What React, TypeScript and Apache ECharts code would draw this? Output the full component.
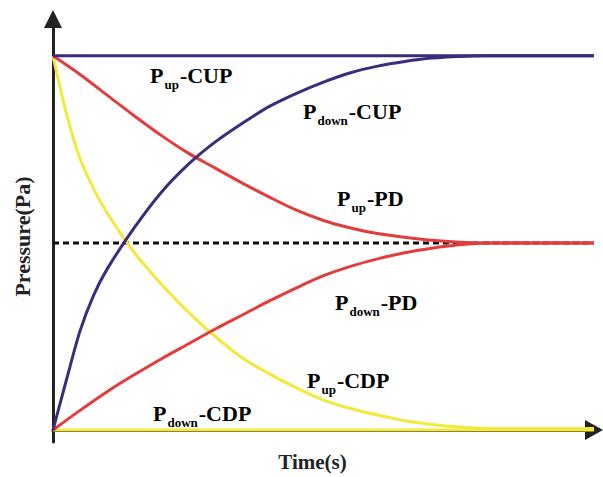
import React, { useEffect, useRef } from "react";
import * as echarts from "echarts";

const T_UP_CUP = [0, 10];
const V_UP_CUP = [2, 2];

const T_DOWN_CUP = [0, 0.25, 0.5, 0.75, 1, 1.5, 2, 2.5, 3, 3.5, 4, 4.5, 5, 5.5, 6, 6.5, 7, 7.5, 8, 10];
const V_DOWN_CUP = [0, 0.27, 0.53, 0.72, 0.86, 1.08, 1.27, 1.42, 1.54, 1.64, 1.73, 1.8, 1.86, 1.91, 1.945, 1.97, 1.988, 1.997, 2.0, 2.0];

const T_UP_PD = [0, 0.5, 1, 1.5, 2, 2.5, 3, 3.5, 4, 4.5, 5, 5.5, 6, 6.5, 7, 7.5, 8, 10];
const V_UP_PD = [2, 1.9, 1.79, 1.68, 1.575, 1.48, 1.4, 1.32, 1.245, 1.175, 1.12, 1.08, 1.05, 1.03, 1.014, 1.004, 1.0, 1.0];

const T_DOWN_PD = [0, 0.5, 1, 1.5, 2, 2.5, 3, 3.5, 4, 4.5, 5, 5.5, 6, 6.5, 7, 7.5, 8, 10];
const V_DOWN_PD = [0, 0.105, 0.205, 0.295, 0.38, 0.46, 0.54, 0.615, 0.69, 0.76, 0.825, 0.875, 0.915, 0.948, 0.972, 0.99, 1.0, 1.0];

const T_UP_CDP = [0, 0.25, 0.5, 0.75, 1, 1.5, 2, 2.5, 3, 3.5, 4, 4.5, 5, 5.5, 6, 6.5, 7, 7.5, 8, 10];
const V_UP_CDP = [2, 1.69, 1.45, 1.29, 1.16, 0.95, 0.78, 0.63, 0.5, 0.385, 0.3, 0.225, 0.16, 0.115, 0.08, 0.05, 0.03, 0.016, 0.009, 0.008];

const T_DOWN_CDP = [0, 10];
const V_DOWN_CDP = [0, 0];

const T_EQ = [0, 10];
const V_EQ = [1, 1];

const PURPLE = "#3d2b7c";
const RED = "#e23c3c";
const YELLOW = "#f3e83c";
const INK = "#222222";
const FONT = "'Liberation Serif', 'Times New Roman', serif";

const zip = (t: number[], v: number[]) => t.map((x, i) => [x, v[i]]);

const labelRich = {
  a: { fontSize: 22, fontWeight: "bold", fontFamily: FONT, color: INK, lineHeight: 24, verticalAlign: "bottom" },
  b: { fontSize: 13, fontWeight: "bold", fontFamily: FONT, color: INK, lineHeight: 24, verticalAlign: "bottom", padding: [0, 1, -5, 1] },
};

const label = (x: number, y: number, sub: string, tail: string) => ({
  type: "text",
  x,
  y,
  style: {
    text: `{a|P}{b|${sub}}{a|${tail}}`,
    rich: labelRich,
    align: "left",
    verticalAlign: "middle",
  },
});

export default function App() {
  const ref = useRef<HTMLDivElement>(null);
  useEffect(() => {
    if (!ref.current) return;
    const chart = echarts.init(ref.current, undefined, { renderer: "svg" });
    const line = (name: string, t: number[], v: number[], color: string, extra: any = {}) => ({
      name,
      type: "line",
      data: zip(t, v),
      showSymbol: false,
      symbol: "none",
      smooth: 0.3,
      lineStyle: { color, width: 3 },
      z: 3,
      ...extra,
    });
    chart.setOption({
      animation: false,
      backgroundColor: "#ffffff",
      grid: { left: 53, right: 9, top: 19, bottom: 33 },
      xAxis: {
        type: "value",
        min: 0,
        max: 10,
        name: "Time(s)",
        nameLocation: "middle",
        nameGap: 9,
        nameTextStyle: { fontSize: 21, fontWeight: "bold", fontFamily: FONT, color: INK, verticalAlign: "top", padding: [0, 22, 0, 0] },
        axisLine: { show: true, symbol: ["none", "triangle"], symbolSize: [20, 18], lineStyle: { color: INK, width: 3 } },
        axisTick: { show: false },
        axisLabel: { show: false },
        splitLine: { show: false },
      },
      yAxis: {
        type: "value",
        min: -0.064,
        max: 2.197,
        name: "Pressure(Pa)",
        nameLocation: "middle",
        nameGap: 20,
        nameTextStyle: { fontSize: 22, fontWeight: "bold", fontFamily: FONT, color: INK, padding: [0, 12, 0, 0] },
        axisLine: { show: true, symbol: ["none", "triangle"], symbolSize: [18, 18], lineStyle: { color: INK, width: 3 } },
        axisTick: { show: false },
        axisLabel: { show: false },
        splitLine: { show: false },
      },
      series: [
        line("Equilibrium", T_EQ, V_EQ, "#111111", { lineStyle: { color: "#111111", width: 3, type: [6, 4] }, smooth: false, z: 2 }),
        line("Pdown-CDP", T_DOWN_CDP, V_DOWN_CDP, YELLOW, { smooth: false }),
        line("Pup-CDP", T_UP_CDP, V_UP_CDP, YELLOW),
        line("Pdown-PD", T_DOWN_PD, V_DOWN_PD, RED),
        line("Pup-PD", T_UP_PD, V_UP_PD, RED),
        line("Pdown-CUP", T_DOWN_CUP, V_DOWN_CUP, PURPLE),
        line("Pup-CUP", T_UP_CUP, V_UP_CUP, PURPLE, { smooth: false }),
      ],
      graphic: [
        label(150, 74, "up", "-CUP"),
        label(303, 110, "down", "-CUP"),
        label(337, 197, "up", "-PD"),
        label(335, 301, "down", "-PD"),
        label(307, 379, "up", "-CDP"),
        label(153, 412, "down", "-CDP"),
      ],
    });
    return () => chart.dispose();
  }, []);
  return (
    <div
      ref={ref}
      style={{ position: "absolute", left: 0, top: 0, width: 603, height: 477, background: "#fff" }}
    />
  );
}
